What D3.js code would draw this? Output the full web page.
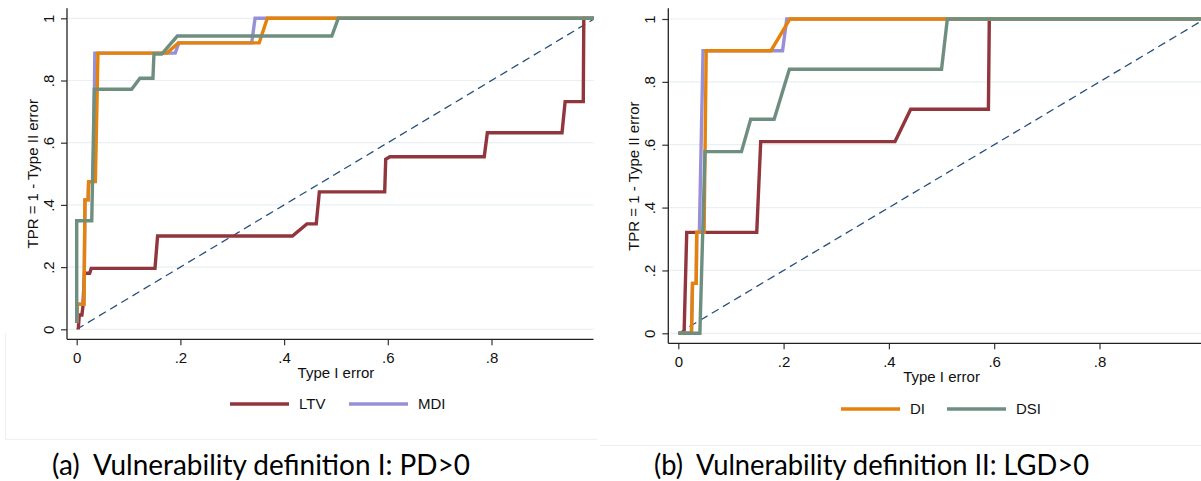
<!DOCTYPE html>
<html><head><meta charset="utf-8">
<script src="https://cdn.jsdelivr.net/npm/d3@7"></script>
<style>
html,body{margin:0;padding:0;background:#fff;}
svg{display:block;}
.cap{white-space:pre;}
</style></head>
<body>
<svg id="chart" width="1201" height="481"></svg>
<script>
// ---------- DATA ----------
const yTicks = [0, 0.2, 0.4, 0.6, 0.8, 1];
const xTicks = [0, 0.2, 0.4, 0.6, 0.8];
const yTitle = "TPR = 1 - Type II error";
const xTitle = "Type I error";

// Panel (a): Vulnerability definition I: PD>0
const ltvX_a = [0.003,0.005,0.010,0.012,0.015,0.025,0.028,0.151,0.156,0.416,0.444,0.462,0.468,0.594,0.596,0.604,0.786,0.792,0.936,0.942,0.977,0.978,1.0];
const ltvY_a = [0,0.046,0.046,0.073,0.18,0.18,0.196,0.196,0.30,0.30,0.339,0.339,0.442,0.442,0.547,0.555,0.555,0.632,0.632,0.732,0.732,1.0,1.0];
const mdiX_a = [0,0.001,0.014,0.016,0.022,0.023,0.032,0.035,0.19,0.197,0.3375,0.344,1.0];
const mdiY_a = [0.02,0.081,0.081,0.416,0.416,0.475,0.475,0.888,0.888,0.921,0.921,1.0,1.0];
const diX_a  = [0,0.001,0.014,0.016,0.022,0.023,0.036,0.041,0.174,0.196,0.352,0.3676,1.0];
const diY_a  = [0.02,0.081,0.081,0.416,0.416,0.475,0.475,0.888,0.888,0.921,0.921,1.0,1.0];
const dsiX_a = [0,0,0.029,0.034,0.106,0.122,0.147,0.149,0.164,0.194,0.492,0.5045,1.0];
const dsiY_a = [0.02,0.349,0.349,0.772,0.772,0.807,0.807,0.885,0.885,0.943,0.943,1.0,1.0];

// Panel (b): Vulnerability definition II: LGD>0
const ltvX_b = [0,0.011,0.016,0.149,0.1565,0.4116,0.4414,0.589,0.5907,1.0];
const ltvY_b = [0,0,0.321,0.321,0.61,0.61,0.713,0.713,1.0,1.0];
const mdiX_b = [0,0.025,0.027,0.034,0.035,0.040,0.047,0.198,0.206,1.0];
const mdiY_b = [0,0,0.159,0.159,0.321,0.321,0.899,0.899,1.0,1.0];
const diX_b  = [0,0.025,0.027,0.034,0.035,0.049,0.053,0.176,0.212,1.0];
const diY_b  = [0,0,0.159,0.159,0.321,0.321,0.899,0.899,1.0,1.0];
const dsiX_b = [0,0.041,0.0507,0.120,0.1375,0.182,0.211,0.500,0.511,1.0];
const dsiY_b = [0,0,0.578,0.578,0.681,0.681,0.84,0.84,1.0,1.0];

const seriesNames = ["LTV","MDI","DI","DSI"];
const seriesColors = {LTV:"#91363d", MDI:"#9890d6", DI:"#e5820b", DSI:"#6e8f80"};
const legendA = ["LTV","MDI"];
const legendB = ["DI","DSI"];
const captionA = "(a)  Vulnerability definition I: PD>0";
const captionB = "(b)  Vulnerability definition II: LGD>0";

// ---------- DRAW ----------
const svg = d3.select("#chart");
const FONT = "'Liberation Sans', Arial, sans-serif";
const fmt = v => v === 0 ? "0" : v === 1 ? "1" : String(+v.toFixed(1)).replace(/^0/, "");

function zip(xs, ys){ return xs.map((x,i)=>[x, ys[i]]); }

const panels = [
  {id:"a", axisX:67, axisTop:8.3, axisY:339.3, right:593.5, x0:76.7, x1:595.2, y0:329.3, y1:18.3,
   titleX:37.6, legend:legendA, legendX:[230,349], legendY:404, caption:captionA, capX:52, capLen:418,
   frame:[[5.5,333,5.5,439.3],[5.5,439.3,597,439.3]],
   data:{LTV:zip(ltvX_a,ltvY_a), MDI:zip(mdiX_a,mdiY_a), DI:zip(diX_a,diY_a), DSI:zip(dsiX_a,dsiY_a)}},
  {id:"b", axisX:668.3, axisTop:8.3, axisY:343.3, right:1201, x0:678.3, x1:1204.8, y0:333.3, y1:19,
   titleX:638.8, legend:legendB, legendX:[841,947], legendY:409, caption:captionB, capX:654, capLen:435,
   frame:[[600,445.5,1201,445.5]],
   data:{LTV:zip(ltvX_b,ltvY_b), MDI:zip(mdiX_b,mdiY_b), DI:zip(diX_b,diY_b), DSI:zip(dsiX_b,dsiY_b)}}
];

panels.forEach(p => {
  const g = svg.append("g");
  const x = d3.scaleLinear().domain([0,1]).range([p.x0, p.x1]);
  const y = d3.scaleLinear().domain([0,1]).range([p.y0, p.y1]);

  // faint graph-region frame
  p.frame.forEach(f => g.append("line").attr("x1",f[0]).attr("y1",f[1]).attr("x2",f[2]).attr("y2",f[3])
    .attr("stroke","#eceff1").attr("stroke-width",1));

  // gridlines
  g.append("g").selectAll("line").data(yTicks).join("line")
    .attr("x1", p.axisX+1).attr("x2", p.right)
    .attr("y1", d=>y(d)).attr("y2", d=>y(d))
    .attr("stroke","#e9eff3").attr("stroke-width",1.2);

  // clip
  const clipId = "clip-"+p.id;
  svg.append("clipPath").attr("id", clipId).append("rect")
    .attr("x", p.axisX).attr("y", 0).attr("width", p.right - p.axisX + 0.5).attr("height", p.axisY);

  const plot = g.append("g").attr("clip-path", `url(#${clipId})`);

  // diagonal reference line
  plot.append("line")
    .attr("x1", x(0)).attr("y1", y(0)).attr("x2", x(1)).attr("y2", y(1))
    .attr("stroke","#27507d").attr("stroke-width",1.3).attr("stroke-dasharray","8,5");

  const line = d3.line().x(d=>x(d[0])).y(d=>y(d[1]));
  seriesNames.forEach(name => {
    plot.append("path").datum(p.data[name])
      .attr("d", line).attr("fill","none")
      .attr("stroke", seriesColors[name]).attr("stroke-width",3.4)
      .attr("stroke-linejoin","miter").attr("stroke-linecap","butt");
  });

  // y axis
  const yAxis = g.append("g").attr("transform",`translate(${p.axisX},0)`)
    .call(d3.axisLeft(y).tickValues(yTicks).tickFormat(fmt).tickSize(6).tickSizeOuter(0));
  yAxis.select(".domain").remove();
  yAxis.selectAll(".tick line").attr("stroke","#333").attr("stroke-width",1.2);
  yAxis.selectAll(".tick text")
    .attr("x",null).attr("dy",null)
    .attr("transform","translate(-13.5,0) rotate(-90)")
    .attr("text-anchor","middle")
    .attr("font-family",FONT).attr("font-size",15).attr("fill","#111");
  g.append("line").attr("x1",p.axisX).attr("x2",p.axisX).attr("y1",p.axisTop).attr("y2",p.axisY)
    .attr("stroke","#222").attr("stroke-width",1.3);

  // x axis
  const xAxis = g.append("g").attr("transform",`translate(0,${p.axisY})`)
    .call(d3.axisBottom(x).tickValues(xTicks).tickFormat(fmt).tickSize(6).tickSizeOuter(0));
  xAxis.select(".domain").remove();
  xAxis.selectAll(".tick line").attr("stroke","#333").attr("stroke-width",1.2);
  xAxis.selectAll(".tick text").attr("y",23.5).attr("dy",null)
    .attr("font-family",FONT).attr("font-size",15).attr("fill","#111");
  g.append("line").attr("x1",p.axisX).attr("x2",p.right).attr("y1",p.axisY).attr("y2",p.axisY)
    .attr("stroke","#222").attr("stroke-width",1.3);

  // axis titles
  g.append("text").attr("transform",`translate(${p.titleX},${(y(0)+y(1))/2}) rotate(-90)`)
    .attr("text-anchor","middle").attr("font-family",FONT).attr("font-size",15).attr("fill","#111")
    .text(yTitle);
  g.append("text").attr("x",(x(0)+x(1))/2).attr("y",p.axisY+39)
    .attr("text-anchor","middle").attr("font-family",FONT).attr("font-size",15).attr("fill","#111")
    .text(xTitle);

  // legend
  p.legend.forEach((name,i) => {
    const lx = p.legendX[i];
    g.append("line").attr("x1",lx).attr("x2",lx+59).attr("y1",p.legendY).attr("y2",p.legendY)
      .attr("stroke",seriesColors[name]).attr("stroke-width",3.6);
    g.append("text").attr("x",lx+69).attr("y",p.legendY+5.4)
      .attr("font-family",FONT).attr("font-size",15).attr("fill","#111").text(name);
  });

  // caption
  g.append("text").attr("class","cap").attr("xml:space","preserve")
    .attr("x",p.capX).attr("y",475)
    .attr("font-family","Lato, 'Open Sans', sans-serif").attr("font-size",28).attr("fill","#000")
    .attr("textLength",p.capLen).attr("lengthAdjust","spacingAndGlyphs")
    .text(p.caption);
});
</script>
</body></html>
